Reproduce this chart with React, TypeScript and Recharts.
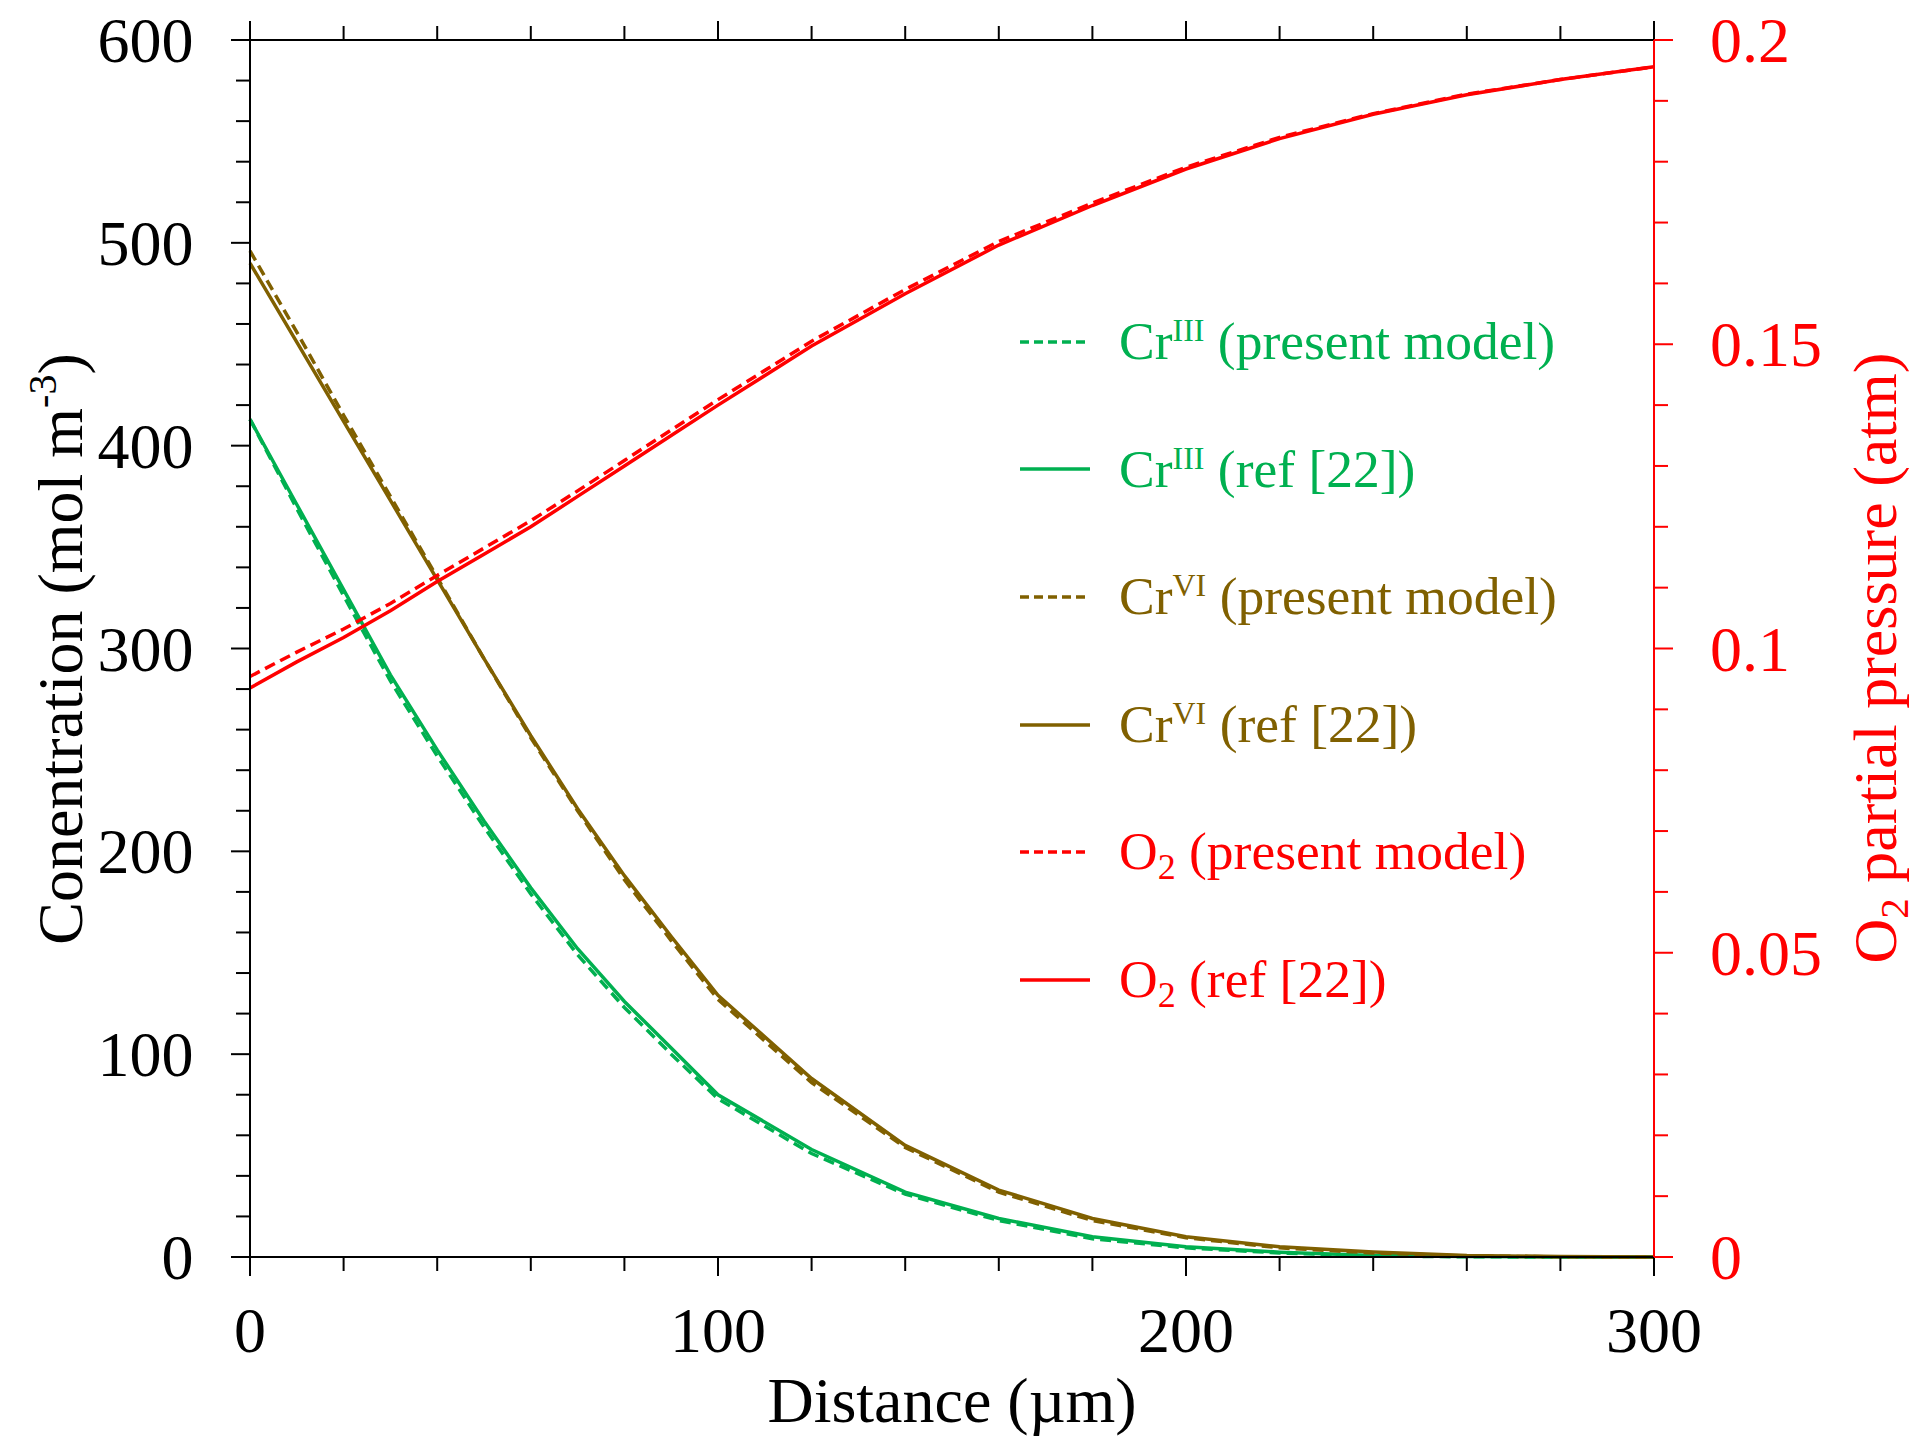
import React from 'react';
import { LineChart, Line, XAxis, YAxis, Legend } from 'recharts';

const FONT = '"Liberation Serif", "Times New Roman", Times, serif';
const GREEN = '#00B050';
const BROWN = '#806000';
const RED = '#FF0000';

// Distance (µm)
const distance = [0, 10, 20, 30, 40, 50, 60, 70, 80, 90, 100, 120, 140, 160, 180, 200, 220, 240, 260, 280, 300];
// Concentrations (mol m-3)
const crIIIModel = [413, 369, 326, 284, 247, 212, 179, 149, 123, 100, 78, 51, 31, 18, 9, 4.5, 2, 0.5, 0.1, 0, 0];
const crIIIRef = [413, 371, 329, 287, 250, 215, 182, 152, 126, 103, 80, 53, 32, 19, 10, 5, 2.4, 0.7, 0.2, 0, 0];
const crVIModel = [496, 456, 415, 375, 335, 295, 256, 220, 186, 156, 127, 86, 54, 32, 18, 9.5, 4.5, 2, 0.5, 0.1, 0];
const crVIRef = [490, 451, 412, 373, 334, 295, 257, 221, 188, 158, 129, 88, 55, 33, 19, 10, 5, 2.5, 0.8, 0.2, 0];
// O2 partial pressure (atm)
const o2Model = [0.0954, 0.0994, 0.1032, 0.1074, 0.1120, 0.1165, 0.1210, 0.1259, 0.1309, 0.1359, 0.1409, 0.1505, 0.1590, 0.1669, 0.1732, 0.1791, 0.1840, 0.1879, 0.1911, 0.1935, 0.1956];
const o2Ref = [0.0935, 0.0978, 0.1018, 0.1062, 0.1110, 0.1155, 0.1200, 0.1250, 0.1300, 0.1350, 0.1400, 0.1497, 0.1583, 0.1663, 0.1728, 0.1788, 0.1838, 0.1878, 0.1910, 0.1935, 0.1956];

const xTicks = [0, 20, 40, 60, 80, 100, 120, 140, 160, 180, 200, 220, 240, 260, 280, 300];
const leftTicks = Array.from({ length: 31 }, (_, i) => i * 20);
const rightTicks = Array.from({ length: 21 }, (_, i) => i / 100);

const legendItems = [
  { key: 'crIIIModel', base: 'Cr', sup: 'III', sub: '', rest: ' (present model)', color: GREEN, dashed: true },
  { key: 'crIIIRef', base: 'Cr', sup: 'III', sub: '', rest: ' (ref [22])', color: GREEN, dashed: false },
  { key: 'crVIModel', base: 'Cr', sup: 'VI', sub: '', rest: ' (present model)', color: BROWN, dashed: true },
  { key: 'crVIRef', base: 'Cr', sup: 'VI', sub: '', rest: ' (ref [22])', color: BROWN, dashed: false },
  { key: 'o2Model', base: 'O', sup: '', sub: '2', rest: ' (present model)', color: RED, dashed: true },
  { key: 'o2Ref', base: 'O', sup: '', sub: '2', rest: ' (ref [22])', color: RED, dashed: false },
];

const data = distance.map((x, i) => ({
  x,
  crIIIModel: crIIIModel[i],
  crIIIRef: crIIIRef[i],
  crVIModel: crVIModel[i],
  crVIRef: crVIRef[i],
  o2Model: o2Model[i],
  o2Ref: o2Ref[i],
}));

const DASH = '11 6';
const LW = 3.5;
const MAJOR = 19;
const MINOR = 14;
const TICK_FONT = 64;

const makeTick = (side: string) => (props: any) => {
  const { x, y, payload } = props;
  const v = payload.value;
  let major = false;
  let label = '';
  if (side === 'right') {
    const k = Math.round(v * 100);
    major = k % 5 === 0;
    label = String(k / 100);
  } else {
    major = Math.round(v) % 100 === 0;
    label = String(v);
  }
  const len = major ? MAJOR : MINOR;
  const color = side === 'right' ? RED : '#000';
  if (side === 'left') {
    return (
      <g>
        <line x1={x - len} x2={x} y1={y} y2={y} stroke={color} strokeWidth={2} />
        {major && (
          <text x={x - 56.5} y={y + 22} textAnchor="end" fontFamily={FONT} fontSize={TICK_FONT} fill={color}>{label}</text>
        )}
      </g>
    );
  }
  if (side === 'right') {
    return (
      <g>
        <line x1={x} x2={x + len} y1={y} y2={y} stroke={color} strokeWidth={2} />
        {major && (
          <text x={x + 56} y={y + 22} textAnchor="start" fontFamily={FONT} fontSize={TICK_FONT} fill={color}>{label}</text>
        )}
      </g>
    );
  }
  if (side === 'top') {
    return <line x1={x} x2={x} y1={y - len} y2={y} stroke={color} strokeWidth={2} />;
  }
  return (
    <g>
      <line x1={x} x2={x} y1={y} y2={y + len} stroke={color} strokeWidth={2} />
      {major && (
        <text x={x} y={y + 95} textAnchor="middle" fontFamily={FONT} fontSize={TICK_FONT} fill={color}>{label}</text>
      )}
    </g>
  );
};

const BottomTitle = () => (
  <text x={952} y={1422} textAnchor="middle" fontFamily={FONT} fontSize={64} fill="#000">
    Distance (µm)
  </text>
);

const LeftTitle = () => (
  <text x={82} y={649} transform="rotate(-90 82 649)" textAnchor="middle" fontFamily={FONT} fontSize={64} fill="#000">
    Conentration (mol m<tspan fontSize={40} dy={-26}>-3</tspan><tspan dy={26}>)</tspan>
  </text>
);

const RightTitle = () => (
  <text x={1896} y={658} transform="rotate(-90 1896 658)" textAnchor="middle" fontFamily={FONT} fontSize={62} fill={RED}>
    O<tspan fontSize={41} dy={12}>2</tspan><tspan dy={-12}> partial pressure (atm)</tspan>
  </text>
);

const renderLegend = () => (
  <div style={{ fontFamily: FONT, fontSize: 53.5 }}>
    {legendItems.map((it) => (
      <div key={it.key} style={{ height: 127.6, display: 'flex', alignItems: 'center' }}>
        <svg width={70} height={10} style={{ display: 'block' }}>
          <line x1={0} x2={70} y1={5} y2={5} stroke={it.color} strokeWidth={LW} strokeDasharray={it.dashed ? '9 5' : undefined} />
        </svg>
        <span style={{ marginLeft: 29, color: it.color, whiteSpace: 'pre', lineHeight: 1 }}>
          {it.base}
          {it.sup && <span style={{ fontSize: 32, position: 'relative', top: -18 }}>{it.sup}</span>}
          {it.sub && <span style={{ fontSize: 36, position: 'relative', top: 10 }}>{it.sub}</span>}
          {it.rest}
        </span>
      </div>
    ))}
  </div>
);

export default function App() {
  return (
    <div style={{ position: 'absolute', left: 0, top: 0, width: 1920, height: 1440, background: '#fff' }}>
      <LineChart
        width={1920}
        height={1440}
        data={data}
        margin={{ top: 10, right: 166, bottom: 83, left: 150 }}
      >
        <XAxis
          xAxisId="b"
          dataKey="x"
          type="number"
          domain={[0, 300]}
          ticks={xTicks}
          interval={0}
          height={100}
          tickSize={0}
          tickMargin={0}
          tickLine={false}
          axisLine={{ stroke: '#000', strokeWidth: 2 }}
          tick={makeTick('bottom')}
          label={<BottomTitle />}
        />
        <XAxis
          xAxisId="t"
          orientation="top"
          dataKey="x"
          type="number"
          domain={[0, 300]}
          ticks={xTicks}
          interval={0}
          height={30}
          tickSize={0}
          tickMargin={0}
          tickLine={false}
          axisLine={{ stroke: '#000', strokeWidth: 2 }}
          tick={makeTick('top')}
        />
        <YAxis
          yAxisId="l"
          type="number"
          domain={[0, 600]}
          ticks={leftTicks}
          interval={0}
          width={100}
          tickSize={0}
          tickMargin={0}
          tickLine={false}
          axisLine={{ stroke: '#000', strokeWidth: 2 }}
          tick={makeTick('left')}
          label={<LeftTitle />}
        />
        <YAxis
          yAxisId="r"
          orientation="right"
          type="number"
          domain={[0, 0.2]}
          ticks={rightTicks}
          interval={0}
          width={100}
          tickSize={0}
          tickMargin={0}
          tickLine={false}
          axisLine={{ stroke: RED, strokeWidth: 2 }}
          tick={makeTick('right')}
          label={<RightTitle />}
        />
        <Line xAxisId="b" yAxisId="l" type="linear" dataKey="crIIIRef" name="crIIIRef" stroke={GREEN} strokeWidth={LW} dot={false} activeDot={false} isAnimationActive={false} />
        <Line xAxisId="b" yAxisId="l" type="linear" dataKey="crIIIModel" name="crIIIModel" stroke={GREEN} strokeWidth={LW} strokeDasharray={DASH} dot={false} activeDot={false} isAnimationActive={false} />
        <Line xAxisId="b" yAxisId="l" type="linear" dataKey="crVIRef" name="crVIRef" stroke={BROWN} strokeWidth={LW} dot={false} activeDot={false} isAnimationActive={false} />
        <Line xAxisId="b" yAxisId="l" type="linear" dataKey="crVIModel" name="crVIModel" stroke={BROWN} strokeWidth={LW} strokeDasharray={DASH} dot={false} activeDot={false} isAnimationActive={false} />
        <Line xAxisId="b" yAxisId="r" type="linear" dataKey="o2Ref" name="o2Ref" stroke={RED} strokeWidth={LW} dot={false} activeDot={false} isAnimationActive={false} />
        <Line xAxisId="b" yAxisId="r" type="linear" dataKey="o2Model" name="o2Model" stroke={RED} strokeWidth={LW} strokeDasharray={DASH} dot={false} activeDot={false} isAnimationActive={false} />
        <Legend
          layout="vertical"
          align="center"
          verticalAlign="middle"
          content={renderLegend}
          wrapperStyle={{ left: 1020, top: 278, width: 'auto', height: 'auto', margin: 0 }}
        />
      </LineChart>
    </div>
  );
}
